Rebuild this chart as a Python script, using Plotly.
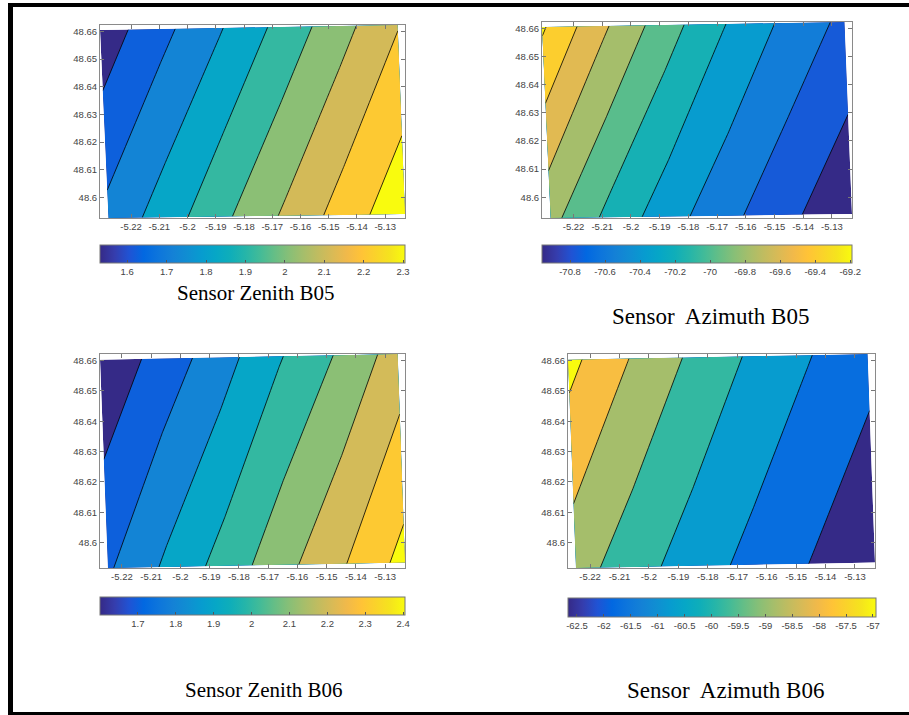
import numpy as np
import plotly.graph_objects as go

# ---------------- data ----------------
# Footprint corners (lon / lat) of each band: [west, east]
b05_lon_bottom = [-5.2280, -5.1230]
b05_lon_top = [-5.2310, -5.1256]
b05_lat_bottom = [48.5926, 48.5940]
b05_lat_top = [48.6605, 48.6623]

b06_lon_bottom = [-5.2248, -5.1232]
b06_lon_top = [-5.2275, -5.1257]
b06_lat_bottom = [48.5916, 48.5934]
b06_lat_top = [48.6603, 48.6622]

# angle values sampled west -> east along the south and north edges
zen_b05_south = [1.706, 1.823, 1.947, 2.067, 2.188, 2.305]
zen_b05_north = [1.531, 1.650, 1.764, 1.888, 2.012, 2.138]
azi_b05_south = [-69.740, -70.062, -70.328, -70.558, -70.766, -70.962]
azi_b05_north = [-69.174, -69.564, -69.898, -70.190, -70.438, -70.650]
zen_b06_south = [1.765, 1.895, 2.020, 2.147, 2.269, 2.405]
zen_b06_north = [1.600, 1.713, 1.830, 1.966, 2.084, 2.218]
azi_b06_south = [-58.722, -59.697, -60.567, -61.333, -62.033, -62.667]
azi_b06_north = [-56.944, -58.155, -59.214, -60.151, -60.955, -61.693]

# contour levels: (first level, step, count)
zen_b05_levels = (1.5875, 0.0926, 8)
azi_b05_levels = (-70.8, 0.2, 9)
zen_b06_levels = (1.679, 0.0988, 8)
azi_b06_levels = (-61.9575, 0.946, 6)

# colour-bar limits
zen_b05_clim = [1.531, 2.305]
azi_b05_clim = [-70.96, -69.19]
zen_b06_clim = [1.600, 2.405]
azi_b06_clim = [-62.667, -56.944]

# tick labels
lon_ticks = [-5.22, -5.21, -5.2, -5.19, -5.18, -5.17, -5.16, -5.15, -5.14, -5.13]
lat_ticks = [48.6, 48.61, 48.62, 48.63, 48.64, 48.65, 48.66]
zen_b05_cticks = [1.6, 1.7, 1.8, 1.9, 2.0, 2.1, 2.2, 2.3]
azi_b05_cticks = [-70.8, -70.6, -70.4, -70.2, -70.0, -69.8, -69.6, -69.4, -69.2]
zen_b06_cticks = [1.7, 1.8, 1.9, 2.0, 2.1, 2.2, 2.3, 2.4]
azi_b06_cticks = [-62.5, -62, -61.5, -61, -60.5, -60, -59.5, -59, -58.5, -58, -57.5, -57]

captions = ["Sensor Zenith B05", "Sensor\u00a0 Azimuth B05",
            "Sensor Zenith B06", "Sensor\u00a0 Azimuth B06"]

# ---------------- style ----------------
W, H = 909, 715
parula_idx = [0, 3, 6, 9, 12, 15, 18, 21, 24, 27, 30, 33, 36, 39, 42, 45, 48, 51, 54, 57, 60, 63]
parula_rgb = [
    (0.2081, 0.1663, 0.5292), (0.2081, 0.2386, 0.6771), (0.1253, 0.3242, 0.8303),
    (0.0060, 0.4086, 0.8828), (0.0498, 0.4586, 0.8641), (0.0779, 0.5040, 0.8384),
    (0.0641, 0.5570, 0.8240), (0.0265, 0.6137, 0.8135), (0.0228, 0.6535, 0.7768),
    (0.0590, 0.6838, 0.7254), (0.1453, 0.7098, 0.6646), (0.2586, 0.7317, 0.5954),
    (0.3953, 0.7459, 0.5244), (0.5300, 0.7491, 0.4661), (0.6473, 0.7456, 0.4188),
    (0.7525, 0.7384, 0.3768), (0.8507, 0.7299, 0.3360), (0.9450, 0.7261, 0.2886),
    (0.9990, 0.7653, 0.2164), (0.9789, 0.8271, 0.1633), (0.9589, 0.8949, 0.1132),
    (0.9763, 0.9831, 0.0538)]
parula = [[i / 63, "rgb(%d,%d,%d)" % tuple(round(c * 255) for c in rgb)]
          for i, rgb in zip(parula_idx, parula_rgb)]

TICKFONT = dict(family="Liberation Sans, Arial, sans-serif", size=9.5, color="#444")


def fmt(v):
    return f"{round(v, 4):g}"


# pixel boxes: axes (left, top, right, bottom), colour bar (left, top, right, thickness),
# caption centre (x, y, font size)
panels = [
    dict(fp="b05", s=zen_b05_south, n=zen_b05_north, lev=zen_b05_levels, clim=zen_b05_clim,
         cticks=zen_b05_cticks, ax=(100, 25, 405, 218), cb=(100, 245, 405, 18),
         cap=(256, 293, 21)),
    dict(fp="b05", s=azi_b05_south, n=azi_b05_north, lev=azi_b05_levels, clim=azi_b05_clim,
         cticks=azi_b05_cticks, ax=(542, 22, 852, 218), cb=(542, 245, 852, 18),
         cap=(710, 316, 23)),
    dict(fp="b06", s=zen_b06_south, n=zen_b06_north, lev=zen_b06_levels, clim=zen_b06_clim,
         cticks=zen_b06_cticks, ax=(100, 354, 405, 568), cb=(100, 597, 405, 18),
         cap=(264, 690, 21)),
    dict(fp="b06", s=azi_b06_south, n=azi_b06_north, lev=azi_b06_levels, clim=azi_b06_clim,
         cticks=azi_b06_cticks, ax=(568, 354, 875, 568), cb=(568, 598, 876, 19),
         cap=(725, 690, 23)),
]

footprints = {
    "b05": (b05_lon_bottom, b05_lon_top, b05_lat_bottom, b05_lat_top),
    "b06": (b06_lon_bottom, b06_lon_top, b06_lat_bottom, b06_lat_top),
}

fig = go.Figure()
layout_axes = {}
annotations = []

for k, p in enumerate(panels, start=1):
    xa = "x" if k == 1 else f"x{k}"
    ya = "y" if k == 1 else f"y{k}"
    lon_b, lon_t, lat_b, lat_t = footprints[p["fp"]]
    nn = len(p["s"])
    # carpet grid nodes along south / north edges of the footprint
    gx = [list(np.linspace(lon_b[0], lon_b[1], nn)), list(np.linspace(lon_t[0], lon_t[1], nn))]
    gy = [list(np.linspace(lat_b[0], lat_b[1], nn)), list(np.linspace(lat_t[0], lat_t[1], nn))]
    a = list(range(nn))
    b = [0, 1]
    cid = f"c{k}"
    hidden = dict(showgrid=False, showline=False, showticklabels="none", startline=False,
                  endline=False, minorgridcount=0, smoothing=0, gridwidth=0, linewidth=0)
    fig.add_trace(go.Carpet(carpet=cid, a=a, b=b, x=gx, y=gy, aaxis=hidden, baxis=hidden,
                            xaxis=xa, yaxis=ya))
    start, size, cnt = p["lev"]
    fig.add_trace(go.Contourcarpet(
        carpet=cid, a=a, b=b, z=[p["s"], p["n"]], xaxis=xa, yaxis=ya,
        autocontour=False,
        contours=dict(start=start, end=start + (cnt - 1) * size, size=size,
                      coloring="fill", showlines=True),
        line=dict(color="black", width=0.8, smoothing=0),
        colorscale=parula, showscale=False))
    # continuous colour bar
    l, t, r, th = p["cb"]
    fig.add_trace(go.Scatter(
        x=[None, None], y=[None, None], xaxis=xa, yaxis=ya, mode="markers", showlegend=False,
        hoverinfo="skip",
        marker=dict(color=p["clim"], cmin=p["clim"][0], cmax=p["clim"][1], colorscale=parula,
                    showscale=True,
                    colorbar=dict(orientation="h", x=l / W, xanchor="left", y=1 - t / H,
                                  yanchor="top", len=r - l, lenmode="pixels", thickness=th,
                                  thicknessmode="pixels", xpad=0, ypad=0, outlinewidth=1,
                                  outlinecolor="#777", tickmode="array", tickvals=p["cticks"],
                                  ticktext=[fmt(v) for v in p["cticks"]], ticks="inside",
                                  ticklen=3, tickcolor="#555", tickfont=TICKFONT))))
    L, T, R, B = p["ax"]
    all_lon = lon_b + lon_t
    all_lat = lat_b + lat_t
    common = dict(showline=True, linecolor="#8a8a8a", linewidth=1, mirror="ticks", ticks="inside",
                  ticklen=4, tickcolor="#777", showgrid=False, zeroline=False, tickfont=TICKFONT,
                  tickmode="array", fixedrange=True)
    layout_axes["xaxis" if k == 1 else f"xaxis{k}"] = dict(
        common, domain=[L / W, R / W], range=[min(all_lon), max(all_lon)], anchor=ya,
        tickvals=lon_ticks, ticktext=[fmt(v) for v in lon_ticks])
    layout_axes["yaxis" if k == 1 else f"yaxis{k}"] = dict(
        common, domain=[1 - B / H, 1 - T / H], range=[min(all_lat), max(all_lat)], anchor=xa,
        tickvals=lat_ticks, ticktext=[fmt(v) for v in lat_ticks])
    cx, cy, fs = p["cap"]
    annotations.append(dict(text=captions[k - 1], x=cx / W, y=1 - cy / H, xref="paper",
                            yref="paper", showarrow=False, xanchor="center", yanchor="middle",
                            font=dict(family="Liberation Serif, Times New Roman, serif",
                                      size=fs, color="black")))

border = [
    dict(type="line", xref="paper", yref="paper", x0=10.5 / W, x1=10.5 / W, y0=0, y1=1 - 3 / H,
         line=dict(color="black", width=5)),
    dict(type="line", xref="paper", yref="paper", x0=8 / W, x1=1, y0=1 - 5 / H, y1=1 - 5 / H,
         line=dict(color="black", width=4)),
    dict(type="line", xref="paper", yref="paper", x0=8 / W, x1=1, y0=1.5 / H, y1=1.5 / H,
         line=dict(color="black", width=3)),
]

fig.update_layout(width=W, height=H, margin=dict(l=0, r=0, t=0, b=0),
                  paper_bgcolor="white", plot_bgcolor="white", showlegend=False,
                  annotations=annotations, shapes=border, **layout_axes)

fig.write_html("out.html", config={"displayModeBar": False, "staticPlot": True},
               post_script="document.body.style.margin='0px';"
                           "document.body.style.overflow='hidden';")
